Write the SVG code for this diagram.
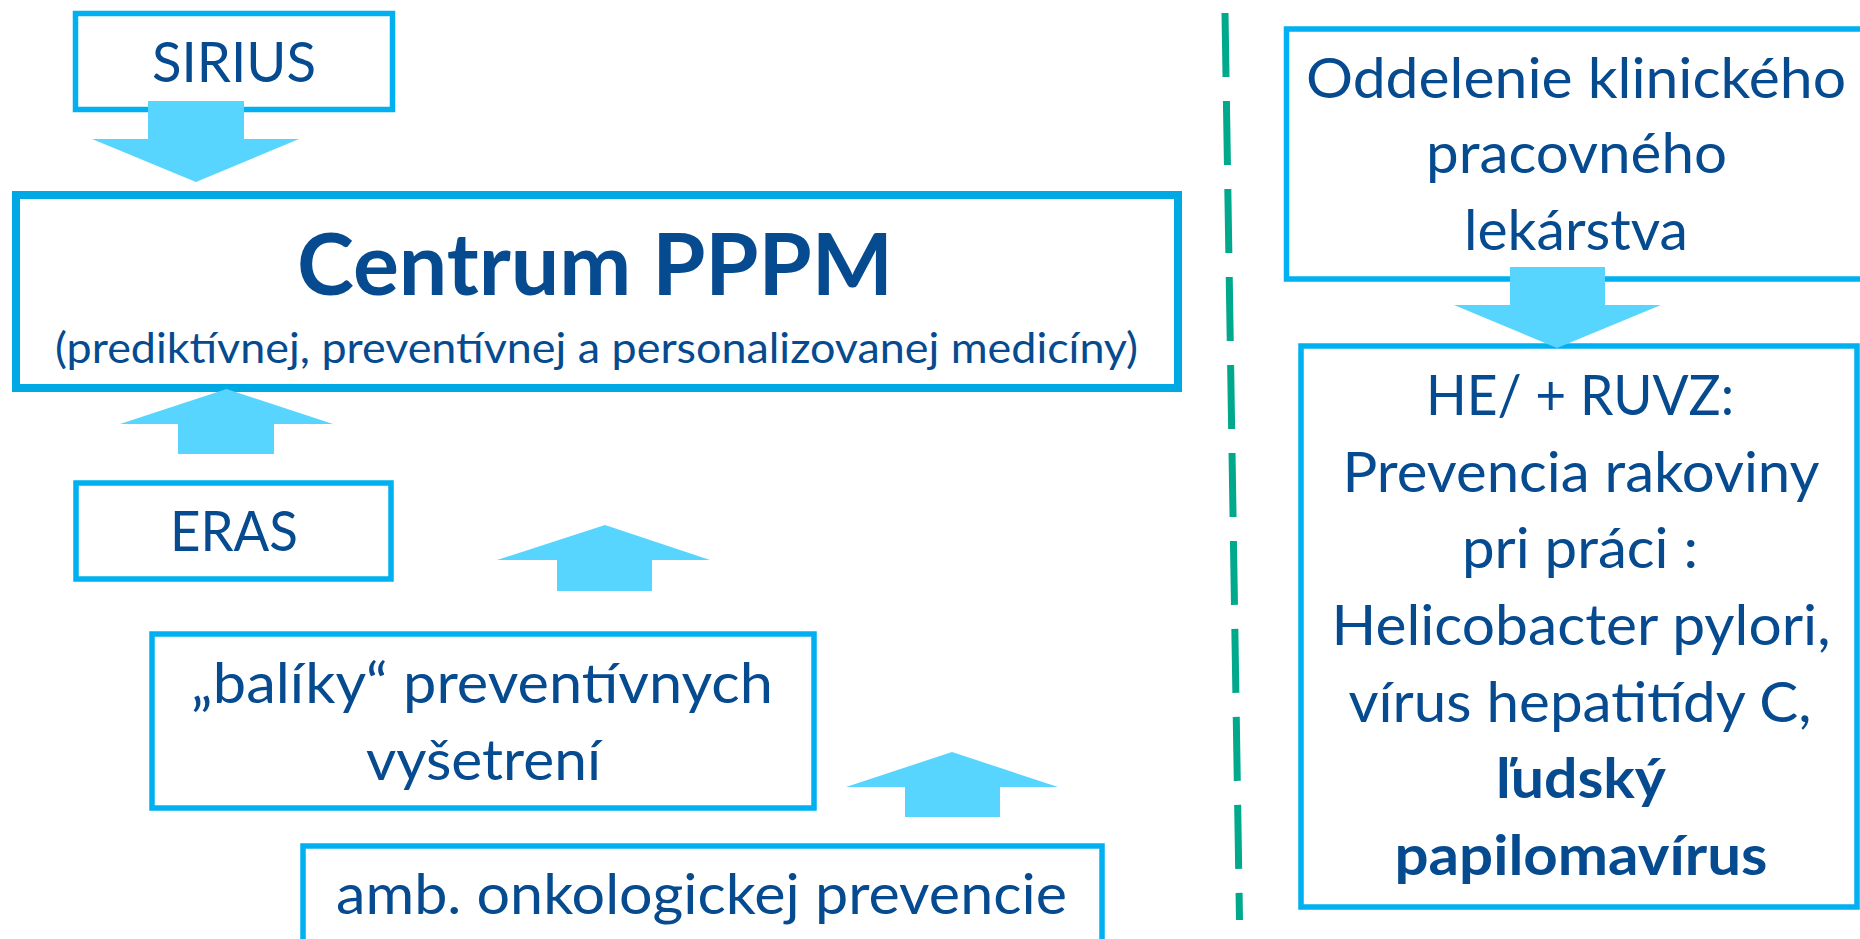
<svg xmlns="http://www.w3.org/2000/svg" width="1860" height="939" viewBox="0 0 1860 939">
<defs>
<style>
.box{fill:#FFFFFF;stroke:#00B0F0;stroke-width:5.5}
.main{fill:#FFFFFF;stroke:#00A9E4;stroke-width:8}
.arrow{fill:#57D5FF;stroke:none}
.t{font-family:Lato,"Open Sans","Liberation Sans",sans-serif;fill:#064A8F;text-anchor:middle;font-size:56px}
.b{font-weight:bold}
.title{font-size:86px;font-weight:bold}
.sub{font-size:42px}
.sep{stroke:#00A88C;stroke-width:7;stroke-dasharray:64 24;fill:none}
</style>
</defs>
<rect width="1860" height="939" fill="#FFFFFF"/>

<g id="sirius">
<rect class="box" x="75.5" y="13.5" width="317" height="96"/>
<text class="t" x="234" y="82" textLength="164" lengthAdjust="spacingAndGlyphs">SIRIUS</text>
</g>

<g id="centrum">
<rect class="main" x="16" y="195" width="1162" height="193"/>
<text class="t title" x="595" y="295" textLength="596" lengthAdjust="spacingAndGlyphs">Centrum PPPM</text>
<text class="t sub" x="596.5" y="363" textLength="1083" lengthAdjust="spacingAndGlyphs">(prediktívnej, preventívnej a personalizovanej medicíny)</text>
</g>

<g id="eras">
<rect class="box" x="76" y="483" width="315" height="96"/>
<text class="t" x="234" y="551" textLength="128" lengthAdjust="spacingAndGlyphs">ERAS</text>
</g>

<g id="baliky">
<rect class="box" x="152" y="634" width="662" height="174"/>
<text class="t" x="482" y="703" textLength="582" lengthAdjust="spacingAndGlyphs">„balíky“ preventívnych</text>
<text class="t" x="483.5" y="780" textLength="235" lengthAdjust="spacingAndGlyphs">vyšetrení</text>
</g>

<g id="amb">
<rect class="box" x="303" y="846" width="799" height="100"/>
<text class="t" x="701.5" y="914" textLength="731" lengthAdjust="spacingAndGlyphs">amb. onkologickej prevencie</text>
</g>

<g id="oddelenie">
<rect class="box" x="1286.5" y="29" width="600" height="250"/>
<text class="t" x="1576" y="98" textLength="540" lengthAdjust="spacingAndGlyphs">Oddelenie klinického</text>
<text class="t" x="1576.5" y="173" textLength="301" lengthAdjust="spacingAndGlyphs">pracovného</text>
<text class="t" x="1576" y="250" textLength="224" lengthAdjust="spacingAndGlyphs">lekárstva</text>
</g>

<g id="he-ruvz">
<rect class="box" x="1301" y="346" width="556" height="561"/>
<text class="t" x="1580" y="415" textLength="308" lengthAdjust="spacingAndGlyphs">HE/ + RUVZ:</text>
<text class="t" x="1581" y="492" textLength="477" lengthAdjust="spacingAndGlyphs">Prevencia rakoviny</text>
<text class="t" x="1580" y="568" textLength="236" lengthAdjust="spacingAndGlyphs">pri práci :</text>
<text class="t" x="1581" y="645" textLength="499" lengthAdjust="spacingAndGlyphs">Helicobacter pylori,</text>
<text class="t" x="1580" y="722" textLength="463" lengthAdjust="spacingAndGlyphs">vírus hepatitídy C,</text>
<text class="t b" x="1581" y="798" textLength="170" lengthAdjust="spacingAndGlyphs">ľudský</text>
<text class="t b" x="1581" y="875" textLength="373" lengthAdjust="spacingAndGlyphs">papilomavírus</text>
</g>

<g id="connectors">
<polygon class="arrow" points="148,101 244,101 244,139 299,139 196,182 92,139 148,139"/>
<polygon class="arrow" points="226.5,389 333,424 274,424 274,454 178,454 178,424 120,424"/>
<polygon class="arrow" points="605,525 710,560 652,560 652,591 557,591 557,560 497,560"/>
<polygon class="arrow" points="952,752 1058,787 1000,787 1000,817 905,817 905,787 846,787"/>
<polygon class="arrow" points="1510,267 1605,267 1605,305 1661,305 1557,348 1454,305 1510,305"/>
<line class="sep" x1="1225" y1="13" x2="1239.5" y2="920"/>
</g>
</svg>
